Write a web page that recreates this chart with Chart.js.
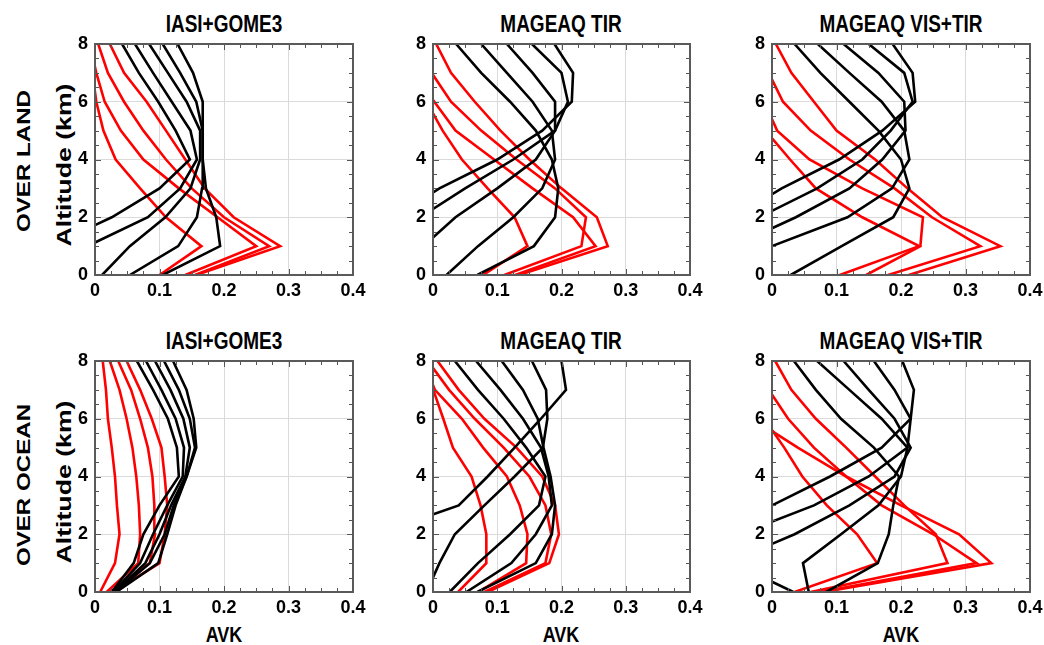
<!DOCTYPE html>
<html><head><meta charset="utf-8">
<script src="https://cdn.jsdelivr.net/npm/chart.js@4.4.1/dist/chart.umd.min.js"></script>
<style>
body{margin:0;background:#fff;width:1044px;height:645px;position:relative;overflow:hidden;font-family:"Liberation Sans",Arial,Helvetica,sans-serif;}
canvas{position:absolute;}
.t{position:absolute;font-weight:bold;white-space:nowrap;color:#000;line-height:1;transform-origin:50% 50%;}
.h{transform:translate(-50%,-50%) scaleY(1.27);}
.v{transform:translate(-50%,-50%) rotate(-90deg) scaleX(1.27);}
</style></head><body>
<div class="t h" style="left:224px;top:24px;font-size:19px">IASI+GOME3</div>
<div class="t h" style="left:561px;top:24px;font-size:19px">MAGEAQ TIR</div>
<div class="t h" style="left:901px;top:24px;font-size:19px">MAGEAQ VIS+TIR</div>
<div class="t h" style="left:224px;top:341px;font-size:19px">IASI+GOME3</div>
<div class="t h" style="left:561px;top:341px;font-size:19px">MAGEAQ TIR</div>
<div class="t h" style="left:901px;top:341px;font-size:19px">MAGEAQ VIS+TIR</div>
<div class="t v" style="left:23px;top:161px;font-size:19px">OVER LAND</div>
<div class="t v" style="left:23px;top:485px;font-size:19px">OVER OCEAN</div>
<div class="t v" style="left:63px;top:165px;font-size:21px">Altitude (km)</div>
<div class="t v" style="left:63px;top:482px;font-size:21px">Altitude (km)</div>
<div class="t h" style="left:224px;top:634px;font-size:18px">AVK</div>
<div class="t h" style="left:561px;top:634px;font-size:18px">AVK</div>
<div class="t h" style="left:901px;top:634px;font-size:18px">AVK</div>
<script>
// ---- data (values listed for altitudes 0..8 km) ----
const altitudes = [0,1,2,3,4,5,6,7,8];
const xTickValues = [0,0.1,0.2,0.3,0.4];
const yTickValues = [0,2,4,6,8];

const landIasiBlack = [
  [-0.1,-0.07,0.026,0.1,0.147,0.125,0.098,0.068,0.042],
  [-0.12,-0.012,0.082,0.132,0.158,0.148,0.119,0.09,0.062],
  [0.011,0.054,0.109,0.148,0.163,0.163,0.142,0.113,0.084],
  [0.054,0.129,0.158,0.166,0.167,0.167,0.157,0.132,0.105],
  [0.105,0.194,0.188,0.172,0.167,0.167,0.167,0.152,0.128]
];
const landIasiRed = [
  [0.1,0.165,0.11,0.07,0.032,0.013,0.002,-0.004,-0.01],
  [0.14,0.25,0.19,0.13,0.075,0.04,0.015,0.002,-0.008],
  [0.155,0.27,0.2,0.15,0.11,0.075,0.045,0.02,0.005],
  [0.157,0.287,0.215,0.17,0.14,0.11,0.08,0.045,0.023]
];
const landTirBlack = [
  [0.069,0.157,0.19,0.195,0.185,0.16,0.12,0.075,0.036],
  [0.021,0.07,0.125,0.17,0.19,0.185,0.155,0.115,0.075],
  [-0.08,-0.015,0.035,0.1,0.16,0.19,0.19,0.155,0.115],
  [-0.16,-0.09,-0.02,0.05,0.125,0.19,0.21,0.2,0.154],
  [-0.25,-0.15,-0.06,0.01,0.1,0.17,0.216,0.218,0.189]
];
const landTirRed = [
  [0.134,0.272,0.255,0.2,0.15,0.105,0.065,0.028,0.005],
  [0.111,0.231,0.238,0.19,0.13,0.075,0.028,-0.002,-0.02],
  [0.128,0.253,0.218,0.155,0.095,0.035,0.002,-0.03,-0.05],
  [0.078,0.147,0.127,0.085,0.045,0.015,-0.01,-0.04,-0.06]
];
const landVisBlack = [
  [0.029,0.108,0.188,0.213,0.2,0.165,0.12,0.075,0.035],
  [-0.12,0.0,0.117,0.186,0.213,0.205,0.17,0.12,0.071],
  [-0.15,-0.06,0.037,0.12,0.171,0.207,0.205,0.165,0.111],
  [-0.2,-0.13,-0.02,0.07,0.14,0.184,0.218,0.205,0.15],
  [-0.25,-0.17,-0.06,0.015,0.104,0.171,0.222,0.218,0.187]
];
const landVisRed = [
  [0.105,0.228,0.14,0.068,0.028,-0.01,-0.03,-0.05,-0.07],
  [0.146,0.23,0.234,0.14,0.058,0.008,-0.012,-0.03,-0.05],
  [0.18,0.323,0.248,0.19,0.12,0.06,0.017,-0.005,-0.03],
  [0.212,0.354,0.264,0.21,0.16,0.1,0.065,0.03,0.006]
];
const oceanIasiBlack = [
  [0.026,0.06,0.075,0.1,0.13,0.127,0.113,0.09,0.065],
  [0.028,0.07,0.09,0.112,0.136,0.138,0.125,0.103,0.079],
  [0.03,0.078,0.1,0.118,0.14,0.147,0.137,0.117,0.093],
  [0.032,0.085,0.108,0.122,0.142,0.155,0.147,0.13,0.107],
  [0.033,0.098,0.112,0.125,0.142,0.157,0.153,0.142,0.121]
];
const oceanIasiRed = [
  [0.008,0.031,0.038,0.034,0.031,0.026,0.02,0.017,0.012],
  [0.018,0.067,0.07,0.068,0.064,0.058,0.049,0.038,0.023],
  [0.023,0.085,0.093,0.092,0.089,0.082,0.07,0.056,0.036],
  [0.028,0.1,0.108,0.112,0.108,0.103,0.088,0.07,0.049]
];
const oceanTirBlack = [
  [0.026,0.07,0.12,0.165,0.175,0.145,0.11,0.07,0.034],
  [0.052,0.122,0.16,0.185,0.18,0.168,0.14,0.105,0.067],
  [0.069,0.16,0.185,0.19,0.183,0.172,0.163,0.14,0.107],
  [-0.01,0.01,0.034,0.08,0.127,0.171,0.178,0.176,0.154],
  [-0.25,-0.17,-0.09,0.04,0.085,0.127,0.168,0.207,0.2]
];
const oceanTirRed = [
  [0.039,0.083,0.083,0.074,0.06,0.031,0.016,0.0005,-0.02],
  [0.07,0.145,0.147,0.135,0.115,0.078,0.045,0.003,-0.015],
  [0.08,0.175,0.184,0.175,0.15,0.11,0.065,0.025,-0.008],
  [0.085,0.181,0.196,0.19,0.17,0.13,0.08,0.04,0.007]
];
const oceanVisBlack = [
  [0.084,0.164,0.181,0.188,0.197,0.158,0.107,0.068,0.034],
  [0.057,0.048,0.107,0.165,0.2,0.21,0.17,0.12,0.07],
  [-0.15,-0.07,0.035,0.12,0.19,0.215,0.19,0.15,0.111],
  [-0.2,-0.13,-0.05,0.065,0.15,0.21,0.215,0.19,0.158],
  [-0.3,-0.2,-0.09,0.0,0.09,0.17,0.215,0.22,0.202],
  [0.033,-0.06,-0.15,-0.2,-0.25,-0.3,-0.3,-0.3,-0.3]
];
const oceanVisRed = [
  [0.035,0.163,0.132,0.085,0.047,0.019,-0.012,-0.03,-0.05],
  [0.08,0.34,0.29,0.2,0.115,0.04,-0.03,-0.05,-0.07],
  [0.075,0.317,0.25,0.17,0.115,0.065,0.025,-0.005,-0.03],
  [0.06,0.272,0.254,0.205,0.16,0.115,0.068,0.03,0.005]
];

// ---- layout ----
const panels = [
  {left:95,  top:44,  w:258, black:landIasiBlack,  red:landIasiRed},
  {left:433, top:44,  w:257, black:landTirBlack,   red:landTirRed},
  {left:772, top:44,  w:258, black:landVisBlack,   red:landVisRed},
  {left:95,  top:361, w:258, black:oceanIasiBlack, red:oceanIasiRed},
  {left:433, top:361, w:257, black:oceanTirBlack,  red:oceanTirRed},
  {left:772, top:361, w:258, black:oceanVisBlack,  red:oceanVisRed}
];
const PLOT_H = 231, PAD_L = 60, PAD_T = 20, PAD_R = 18, PAD_B = 30;

const framePlugin = {
  id:'frame',
  afterDatasetsDraw(chart){
    const {ctx, chartArea:a, scales:{x, y}} = chart;
    ctx.save();
    ctx.strokeStyle = '#555';
    ctx.lineWidth = 1;
    ctx.beginPath();
    for (let i = 0; i <= 16; i++) {
      const px = Math.round(x.getPixelForValue(i * 0.025)) + 0.5;
      const L = (i % 4 === 0) ? 6 : 4;
      ctx.moveTo(px, a.bottom); ctx.lineTo(px, a.bottom - L);
      ctx.moveTo(px, a.top); ctx.lineTo(px, a.top + L);
    }
    for (let i = 0; i <= 16; i++) {
      const py = Math.round(y.getPixelForValue(i * 0.5)) + 0.5;
      const L = (i % 4 === 0) ? 6 : 4;
      ctx.moveTo(a.left, py); ctx.lineTo(a.left + L, py);
      ctx.moveTo(a.right, py); ctx.lineTo(a.right - L, py);
    }
    ctx.stroke();
    ctx.lineWidth = 2;
    ctx.strokeStyle = '#5a5a5a';
    ctx.strokeRect(a.left, a.top, a.right - a.left, a.bottom - a.top);
    ctx.restore();
  }
};

function toPoints(vals){ return vals.map((v, i) => ({x: v, y: altitudes[i]})); }

panels.forEach(p => {
  const c = document.createElement('canvas');
  const W = p.w + PAD_L + PAD_R, H = PLOT_H + PAD_T + PAD_B;
  c.width = W; c.height = H;
  c.style.left = (p.left - PAD_L) + 'px';
  c.style.top = (p.top - PAD_T) + 'px';
  c.style.width = W + 'px'; c.style.height = H + 'px';
  document.body.appendChild(c);
  const ds = [];
  p.black.forEach(v => ds.push({data: toPoints(v), borderColor:'#000000', borderWidth:2.6}));
  p.red.forEach(v => ds.push({data: toPoints(v), borderColor:'#ff0000', borderWidth:2.6}));
  ds.forEach(d => { d.showLine = true; d.pointRadius = 0; d.tension = 0; d.fill = false; });
  new Chart(c, {
    type:'scatter',
    data:{datasets: ds},
    options:{
      responsive:false, devicePixelRatio:1, animation:false, events:[],
      layout:{padding:{left:0, top:PAD_T, right:PAD_R, bottom:0}},
      plugins:{legend:{display:false}, tooltip:{enabled:false}},
      scales:{
        x:{type:'linear', min:0, max:0.4,
           afterBuildTicks: s => { s.ticks = xTickValues.map(v => ({value:v})); },
           afterFit: s => { s.height = PAD_B; },
           ticks:{padding:5, color:'#000', font:{family:'"Liberation Sans", Arial, sans-serif', size:18, weight:'bold'},
                  callback: v => String(v), maxRotation:0},
           grid:{color:'#dadada', lineWidth:1, drawTicks:false},
           border:{display:false}},
        y:{type:'linear', min:0, max:8,
           afterBuildTicks: s => { s.ticks = yTickValues.map(v => ({value:v})); },
           afterFit: s => { s.width = PAD_L; },
           ticks:{padding:7, color:'#000', font:{family:'"Liberation Sans", Arial, sans-serif', size:18, weight:'bold'},
                  callback: v => String(v)},
           grid:{color:'#dadada', lineWidth:1, drawTicks:false},
           border:{display:false}}
      }
    },
    plugins:[framePlugin]
  });
});
</script>
</body></html>
